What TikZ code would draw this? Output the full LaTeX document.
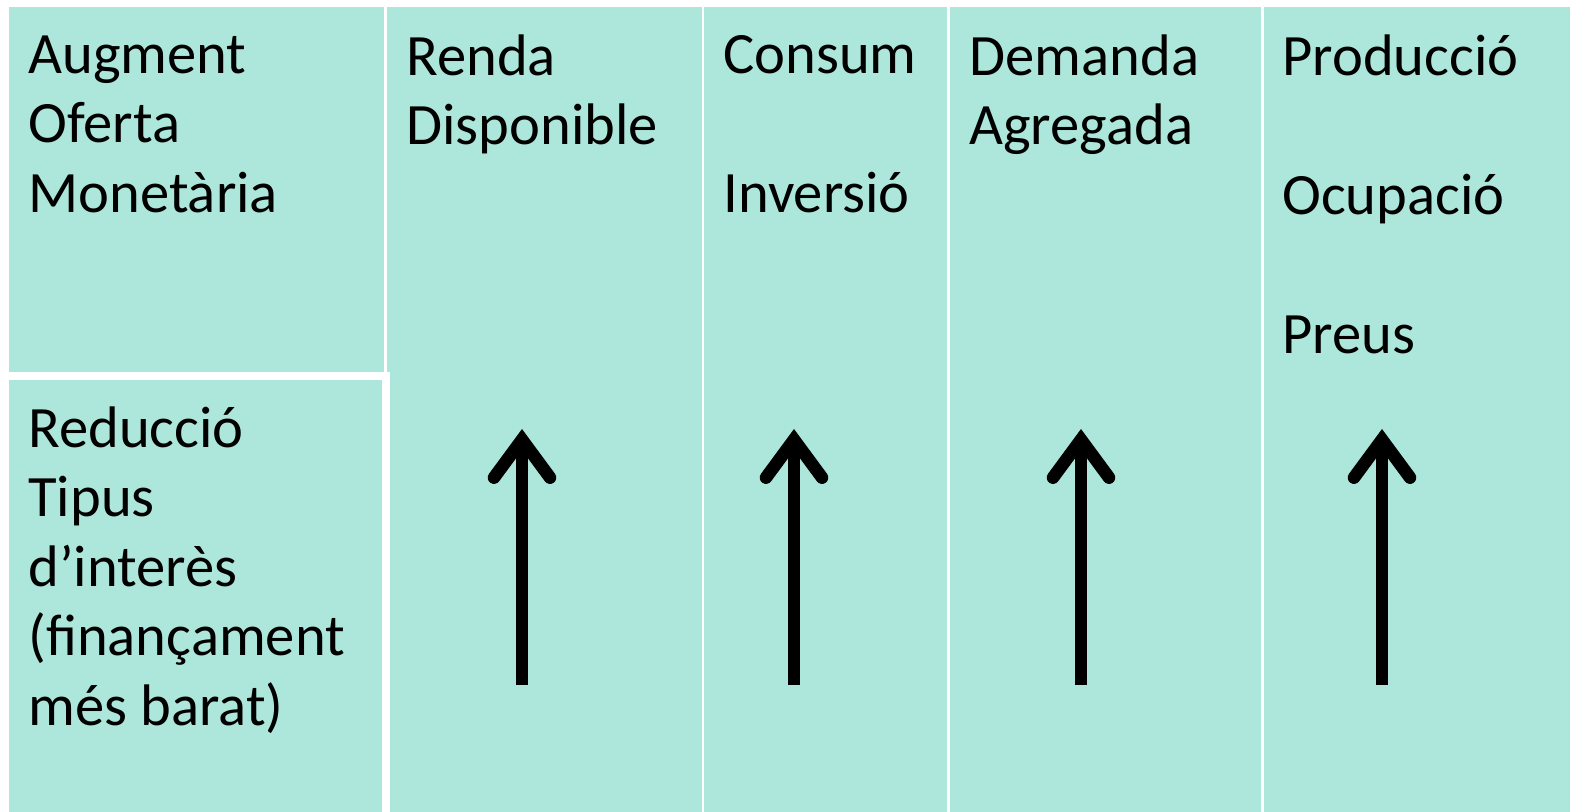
\documentclass[tikz,border=0pt]{standalone}
\usepackage{fontspec}
\setmainfont{Carlito}
\usetikzlibrary{positioning,arrows.meta}
\definecolor{boxgreen}{RGB}{173,230,218}

\begin{document}
\begin{tikzpicture}[
        colbox/.style={rectangle, fill=boxgreen, inner sep=0pt, outer sep=0pt, minimum height=402.5pt},
        topbox/.style={rectangle, fill=boxgreen, inner sep=0pt, outer sep=0pt},
        lbl/.style={inner sep=0pt, align=left, font=\fontsize{29.3}{34.75}\selectfont, execute at begin node=\strut},
        uparrow/.style={line width=6.3pt, -{Straight Barb[length=19pt, width=28pt, line cap=round, line join=miter]}},
        ]
        \useasboundingbox (0,0) rectangle (785pt,-406pt);
        %Boxes
        \node[topbox, anchor=north west, minimum width=187.5pt, minimum height=182.5pt] (aug) at (4.5pt,-3.5pt) {};
        \node[colbox, minimum width=157.5pt] [right= 1.5pt of aug.north east, anchor=north west] (renda) {};
        \node[colbox, minimum width=121.5pt] [right= 1pt of renda] (consum) {};
        \node[colbox, minimum width=155.5pt] [right= 1.5pt of consum] (demanda) {};
        \node[colbox, minimum width=153pt] [right= 1.5pt of demanda] (prod) {};
        \node[topbox, draw=white, line width=4pt, minimum width=190.5pt, minimum height=220pt] [below= 2pt of aug.south west, anchor=north west, xshift=-2pt] (red) {};

        %Texts
        \node[lbl] [below right= 14.2pt and 9.5pt of aug.north west] (taug) {Augment\\Oferta\\Monetària};
        \node[lbl] [below right= 15.2pt and 11.5pt of red.north west] (tred) {Reducció\\Tipus\\d’interès\\(finançament\\més barat)};
        \node[lbl] [below right= 13.7pt and 9.5pt of renda.north west] (trenda) {Renda\\Disponible};
        \node[lbl] [below right= 14.2pt and 9.5pt of consum.north west] (tconsum) {Consum\\[34.75pt]Inversió};
        \node[lbl] [below right= 13.7pt and 9.5pt of demanda.north west] (tdemanda) {Demanda\\Agregada};
        \node[lbl] [below right= 13.7pt and 9pt of prod.north west] (tprod) {Producció\\[34.75pt]Ocupació\\[34.75pt]Preus};

        %Arrows
        \coordinate [above right= 63.5pt and 67.5pt of renda.south west] (a0);
        \coordinate [above= 128pt of a0] (b0);
        \coordinate [above right= 63.5pt and 45pt of consum.south west] (a1);
        \coordinate [above= 128pt of a1] (b1);
        \coordinate [above right= 63.5pt and 65.5pt of demanda.south west] (a2);
        \coordinate [above= 128pt of a2] (b2);
        \coordinate [above right= 63.5pt and 59pt of prod.south west] (a3);
        \coordinate [above= 128pt of a3] (b3);
        \draw [uparrow] (a0) -- (b0);
        \draw [uparrow] (a1) -- (b1);
        \draw [uparrow] (a2) -- (b2);
        \draw [uparrow] (a3) -- (b3);
\end{tikzpicture}
\end{document}
